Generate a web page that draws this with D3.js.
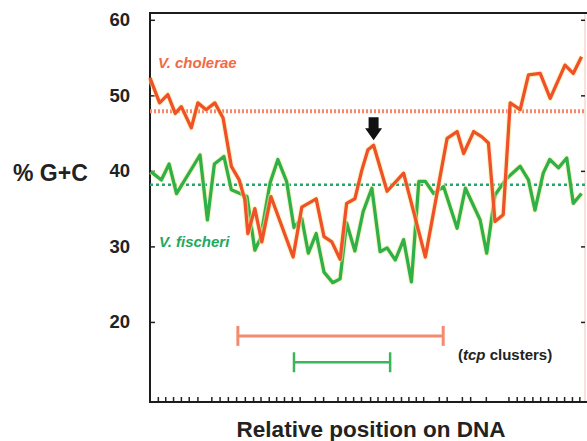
<!DOCTYPE html>
<html>
<head>
<meta charset="utf-8">
<script src="https://cdn.jsdelivr.net/npm/d3@7"></script>
<style>
  body { margin: 0; background: #fff; }
  text { font-family: "Liberation Sans", Arial, Helvetica, sans-serif; font-weight: bold; }
</style>
</head>
<body>
<script>
// relative position along the DNA (0-100) and % G+C
let cholX = [0, 2.2, 4.1, 5.8, 7.2, 9.5, 11.0, 12.9, 14.9, 16.8, 18.7, 20.5, 21.8, 22.5, 24.1, 25.7, 27.8, 32.9, 34.9, 38.2, 40.0, 41.8, 43.7, 45.2, 47.1, 48.7, 50.1, 51.4, 54.5, 58.3, 63.3, 68.3, 70.6, 72.1, 74.4, 76.3, 77.8, 79.3, 81.2, 82.8, 85.1, 87.0, 89.7, 92.0, 95.4, 97.3, 99.2];
let cholY = [52.3, 49.0, 50.1, 47.6, 48.5, 45.7, 49.0, 48.1, 49.0, 47.0, 40.6, 38.8, 36.2, 31.7, 35.0, 30.6, 36.6, 28.6, 35.2, 36.3, 31.3, 30.6, 28.3, 35.7, 36.3, 40.1, 42.8, 43.4, 37.3, 39.7, 28.6, 44.3, 45.2, 42.3, 45.2, 44.5, 43.7, 33.3, 34.2, 49.0, 48.1, 52.7, 52.9, 49.6, 54.0, 52.9, 55.1];

let fischX = [0.2, 2.6, 4.4, 6.1, 11.5, 13.2, 14.8, 17.0, 18.7, 20.7, 22.3, 24.1, 25.4, 27.6, 29.4, 31.4, 33.1, 34.9, 36.4, 38.2, 40.0, 42.0, 43.7, 45.2, 47.1, 49.0, 51.0, 52.9, 54.5, 56.4, 58.3, 60.1, 61.8, 63.3, 65.2, 67.5, 70.6, 72.5, 75.9, 77.4, 79.3, 82.0, 85.1, 87.0, 88.5, 90.4, 91.9, 93.9, 95.8, 97.3, 99.2];
let fischY = [39.9, 38.8, 40.9, 37.0, 42.1, 33.5, 40.9, 41.9, 37.5, 37.0, 36.6, 29.5, 31.1, 38.4, 41.5, 38.6, 32.5, 33.7, 29.1, 31.7, 26.6, 25.2, 25.7, 33.1, 29.4, 34.6, 37.7, 29.3, 29.8, 28.2, 30.9, 25.3, 38.6, 38.6, 37.0, 37.9, 32.4, 37.7, 33.5, 29.1, 36.8, 39.0, 40.6, 38.8, 34.8, 39.7, 41.5, 40.4, 41.7, 35.7, 37.0];

let cholMean = 47.9;
let fischMean = 38.15;

// tcp cluster extents [start, end, level]
let cholCluster = [20.2, 67.4, 18.15];
let fischCluster = [33.1, 55.2, 14.66];

let yTicks = [20, 30, 40, 50, 60];
let xTicks = [1.8, 3.5, 5.3, 7.1, 8.9, 10.9, 14.1, 16.0, 17.9, 19.8, 21.8, 23.7, 25.4, 27.3, 29.0, 30.8, 32.6, 34.4, 37.9, 39.8, 43.1, 44.9, 46.7, 48.5, 50.6, 52.3, 54.2, 55.9, 57.7, 59.4, 61.1, 62.8, 66.4, 68.2, 71.7, 73.6, 77.2, 82.4, 84.3, 86.0, 87.9, 89.7, 91.5, 93.4, 95.2, 97.0, 98.7];

let orange = "#f0502a", green = "#30b04a";

let svg = d3.select("body").append("svg")
    .attr("width", 587)
    .attr("height", 441)

let x = d3.scaleLinear().domain([0, 100]).range([150, 585]);
let y = d3.scaleLinear().domain([9.4, 60.9]).range([402, 13]);

// frame
svg.append("line").attr("x1", 585).attr("x2", 585).attr("y1", 13).attr("y2", 402)
    .attr("stroke", "#f3c4b4").attr("stroke-width", 1);

svg.append("g").attr("transform", "translate(150,0)")
    .call(d3.axisLeft(y).tickValues(yTicks).tickSize(-5).tickPadding(20))
    .call(g => g.select(".domain").remove())
    .call(g => g.selectAll("line").attr("stroke", "#222").attr("stroke-width", 1.5))
    .call(g => g.selectAll("text").attr("font-size", 18.5).attr("fill", "#222")
        .attr("font-family", "Liberation Sans, Arial, sans-serif").attr("font-weight", "bold"));

svg.append("g").attr("transform", "translate(585,0)")
    .call(d3.axisRight(y).tickValues(yTicks).tickSize(-4).tickFormat(""))
    .call(g => g.select(".domain").remove())
    .call(g => g.selectAll("line").attr("stroke", "#222").attr("stroke-width", 1.5));

svg.append("g").attr("transform", "translate(0,402)")
    .call(d3.axisBottom(x).tickValues(xTicks).tickSize(-5).tickFormat(""))
    .call(g => g.select(".domain").remove())
    .call(g => g.selectAll("line").attr("stroke", "#222").attr("stroke-width", 1.5));

svg.append("path")
    .attr("d", "M587,13H150V402H587")
    .attr("fill", "none")
    .attr("stroke", "#1c1c1c")
    .attr("stroke-width", 2)

// mean lines
svg.append("line")
    .attr("x1", x(0)).attr("x2", x(100))
    .attr("y1", y(cholMean)).attr("y2", y(cholMean))
    .attr("stroke", "#f7886c").attr("stroke-width", 4).attr("stroke-dasharray", "2,2");
svg.append("line")
    .attr("x1", x(0)).attr("x2", x(100))
    .attr("y1", y(fischMean)).attr("y2", y(fischMean))
    .attr("stroke", "#22a86a").attr("stroke-width", 2.5).attr("stroke-dasharray", "3,3");

let line = d3.line().x(d => x(d[0])).y(d => y(d[1]));
let cholData = d3.zip(cholX, cholY);
let fischData = d3.zip(fischX, fischY);

[[fischData, green], [cholData, orange]].forEach(([data, color]) => {
    svg.append("path").datum(data)
        .attr("d", line)
        .attr("fill", "none")
        .attr("stroke", "#f4ee9a")
        .attr("stroke-opacity", 0.6)
        .attr("stroke-width", 5.5)
        .attr("stroke-linejoin", "round");
    svg.append("path").datum(data)
        .attr("d", line)
        .attr("fill", "none")
        .attr("stroke", color)
        .attr("stroke-width", 3.3)
        .attr("stroke-linejoin", "round");
});

// arrow above the cholerae peak
let peak = cholData[d3.maxIndex(cholData.filter(d => d[0] > 40 && d[0] < 60), d => d[1]) + cholData.findIndex(d => d[0] > 40)];
let ax = x(peak[0]), tip = y(peak[1]) - 5;
svg.append("path")
    .attr("d", `M${ax - 5},${tip - 23}H${ax + 5}V${tip - 12}H${ax + 8.5}L${ax},${tip}L${ax - 8.5},${tip - 12}H${ax - 5}Z`)
    .attr("fill", "#111");

// cluster ranges
[[cholCluster, "#f58b6e", 3, 10], [fischCluster, "#3cb55a", 2.5, 10]].forEach(([c, color, w, h]) => {
    let g = svg.append("g").attr("stroke", color).attr("stroke-width", w);
    g.append("line").attr("x1", x(c[0])).attr("x2", x(c[1])).attr("y1", y(c[2])).attr("y2", y(c[2]));
    g.append("line").attr("x1", x(c[0])).attr("x2", x(c[0])).attr("y1", y(c[2]) - h).attr("y2", y(c[2]) + h);
    g.append("line").attr("x1", x(c[1])).attr("x2", x(c[1])).attr("y1", y(c[2]) - h).attr("y2", y(c[2]) + h);
});

// labels
svg.append("text").attr("x", 158).attr("y", 68)
    .attr("font-size", 15).attr("font-style", "italic").attr("fill", "#f26a45")
    .text("V. cholerae");
svg.append("text").attr("x", 159).attr("y", 247)
    .attr("font-size", 15).attr("font-style", "italic").attr("fill", "#22a860")
    .text("V. fischeri");

let tcp = svg.append("text").attr("x", 458).attr("y", 360)
    .attr("font-size", 15).attr("fill", "#222");
tcp.append("tspan").text("(");
tcp.append("tspan").attr("font-style", "italic").text("tcp");
tcp.append("tspan").text(" clusters)");

svg.append("text").attr("x", 13).attr("y", 181)
    .attr("font-size", 23).attr("fill", "#222")
    .text("% G+C");

svg.append("text").attr("x", 371).attr("y", 437)
    .attr("text-anchor", "middle")
    .attr("font-size", 22.5).attr("fill", "#222")
    .text("Relative position on DNA");
</script>
</body>
</html>
